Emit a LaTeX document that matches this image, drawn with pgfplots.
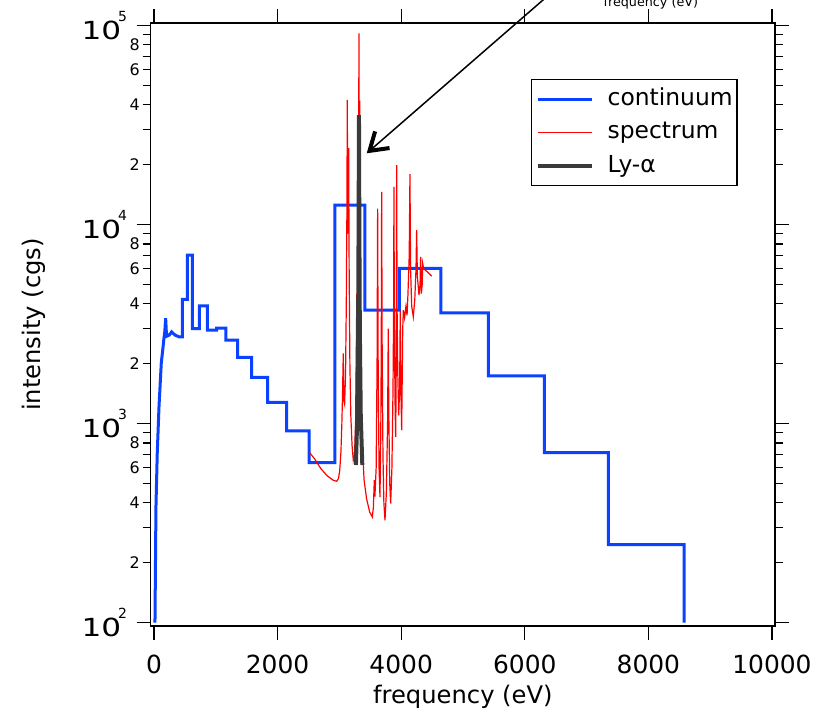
\documentclass[border=0pt]{standalone}
\usepackage{fontspec}
\setmainfont{DejaVu Sans}
\usepackage{graphicx}
\usepackage{pgfplots}
\pgfplotsset{compat=1.18}
\usetikzlibrary{arrows.meta}
\definecolor{cblue}{RGB}{10,66,255}
\definecolor{cred}{RGB}{255,0,0}
\definecolor{cgray}{RGB}{58,58,58}
\newcommand\tp[1]{\scalebox{1.25}[1]{10}\hspace*{-3bp}\raisebox{18.3bp}{\fontsize{14}{14}\selectfont #1}\hspace*{9.5bp}}
\newcommand\mn[1]{#1\hspace*{2.7bp}}
\begin{document}
\begin{tikzpicture}[x=1bp,y=1bp]
\begin{axis}[
  at={(150.7bp,85bp)}, anchor=south west,
  scale only axis, width=624.3bp, height=603bp,
  xmin=-53, xmax=10049,
  ymode=log, ymin=96.3, ymax=103050,
  clip=false,
  axis line style={line width=1.2bp, black},
  tick style={black, line width=1.2bp},
  tick align=outside,
  major tick length=14bp, minor tick length=8bp,
  scaled x ticks=false,
  xtick={0,2000,4000,6000,8000,10000},
  xticklabels={0,2000,4000,6000,8000,10000},
  xticklabel style={font=\fontsize{25}{25}\selectfont, anchor=north, inner sep=0pt, yshift=-15bp},
  ytick={100,1000,10000,100000},
  yticklabels={\tp{2},\tp{3},\tp{4},\tp{5}},
  minor ytick={300,500,700,900,3000,5000,7000,9000,30000,50000,70000,90000},
  extra y ticks={200,400,600,800,2000,4000,6000,8000,20000,40000,60000,80000},
  extra y tick labels={\mn{2},\mn{4},\mn{6},\mn{8},\mn{2},\mn{4},\mn{6},\mn{8},\mn{2},\mn{4},\mn{6},\mn{8}},
  extra y tick style={major tick length=8bp, yticklabel style={font=\fontsize{16}{16}\selectfont}},
  yticklabel style={font=\fontsize{25}{25}\selectfont, anchor=east, inner sep=0pt},
  xlabel={frequency (eV)},
  xlabel style={at={(axis description cs:0.5,-0.1285)}, anchor=base, inner sep=0pt, font=\fontsize{24.3}{28}\selectfont},
  ylabel={intensity (cgs)},
  ylabel style={at={(axis description cs:-0.1762,0.5)}, anchor=base, inner sep=0pt, font=\fontsize{24.3}{28}\selectfont},
  legend style={at={(axis description cs:0.6087,0.9071)}, anchor=north west,
    draw=black, line width=1.2bp, fill=white,
    inner xsep=4.3bp, inner ysep=3bp,
    font=\fontsize{23.5}{28}\selectfont, row sep=0bp,
    nodes={inner xsep=0bp, inner ysep=0bp, text height=23.05bp, text depth=10.25bp}},
  legend cell align=left,
  legend image code/.code={\draw[#1] (3bp,0bp) -- (57bp,0bp);},
]
\addplot[cblue, line width=3bp, line join=miter] coordinates {
(16,100) (32,382) (53,711) (81,1213) (118,2014) (141,2339) (162,2692) (175,2900) (189,3388) (200,2880) (210,2754) (248,2787) (286,2893) (340,2787) (409,2729) (458,2729)
(458,4207) (539,4207) (539,7030) (620,7030) (620,3006) (733,3006) (733,3908) (862,3908) (862,2951) (1014,2951) (1014,3020) (1165,3020) (1165,2630) (1354,2630)
(1354,2153) (1581,2153) (1581,1708) (1840,1708) (1840,1279) (2147,1279) (2147,921) (2511,921) (2511,638) (2927,638) (2927,12540) (3414,12540) (3414,3717) (3969,3717)
(3969,6026) (4644,6026) (4644,3606) (5409,3606) (5409,1738) (6316,1738) (6316,716) (7351,716) (7351,247) (8580,247) (8580,100)
};
\addlegendentry{\hspace*{14bp}continuum}
\addplot[cred, line width=1.2bp] coordinates {
(2513,719) (2600,665) (2700,595) (2800,548) (2900,520) (2956,514) (2985,530) (3005,580) (3025,720) (3040,1000) (3050,1350) (3063,2254) (3072,1300) (3085,1250)
(3100,1800) (3112,4000) (3122,12000) (3128,42300) (3134,12000) (3142,9000) (3150,24200) (3158,6000) (3170,2000) (3185,1100) (3205,780) (3225,656) (3245,700)
(3262,1000) (3275,2500) (3282,4500) (3292,3500) (3302,6000) (3310,15000) (3317,91400) (3322,20000) (3328,42000) (3334,8000) (3342,2500) (3355,1200) (3375,750)
(3400,520) (3440,420) (3490,360) (3533,340) (3550,380) (3565,520) (3575,430) (3595,600) (3610,2000) (3619,12050) (3628,1800) (3642,600) (3657,428) (3670,900)
(3678,2500) (3684,14620) (3692,2500) (3705,700) (3720,400) (3738,327) (3760,450) (3780,1000) (3791,3006) (3800,1100) (3815,500) (3830,397) (3850,600) (3868,1500)
(3878,4000) (3883,15490) (3890,3000) (3902,1200) (3911,859) (3918,1500) (3923,5000) (3927,19900) (3933,4000) (3945,1800) (3960,1100) (3975,1500) (3985,3700)
(3995,1500) (4008,927) (4015,1500) (4025,3000) (4035,3715) (4055,3400) (4077,3880) (4095,3500) (4110,4500) (4130,7000) (4142,17950) (4152,6000) (4170,3900)
(4196,3443) (4220,4200) (4240,6000) (4250,9370) (4262,5500) (4288,4426) (4305,5000) (4315,6890) (4326,4500) (4340,5000) (4348,6380) (4365,6000) (4420,5800) (4493,5510)
};
\addlegendentry{\hspace*{14bp}spectrum}
\addplot[cgray, line width=4bp] coordinates {
(3268,620) (3290,1100) (3303,3000) (3311,10000) (3317,35500) (3323,10000) (3331,3000) (3346,1100) (3371,620)
};
\addlegendentry{\hspace*{14bp}Ly-α}
\end{axis}
\node[font=\fontsize{12.8}{14}\selectfont, anchor=base, inner sep=0pt] at (650.8,704.5) {frequency (eV)};
\draw[line width=1.5bp, -{Straight Barb[length=17bp, width=22bp, line width=4bp]}] (566,731) -- (366.7,557.7);
\pgfresetboundingbox
\useasboundingbox (0,0) rectangle (827,711);
\end{tikzpicture}
\end{document}
